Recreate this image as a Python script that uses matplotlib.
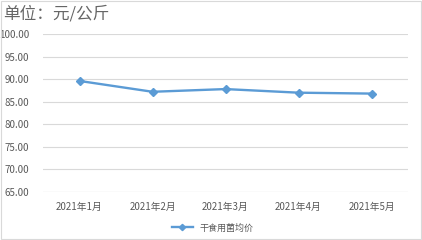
import matplotlib.pyplot as plt
from matplotlib.patches import Rectangle

plt.rcParams['font.family'] = ['Noto Sans CJK SC', 'DejaVu Sans']

months = ["2021年1月", "2021年2月", "2021年3月", "2021年4月", "2021年5月"]
prices = [89.6, 87.2, 87.8, 87.0, 86.8]
yticks = [65, 70, 75, 80, 85, 90, 95, 100]
series_name = "干食用菌均价"

fig = plt.figure(figsize=(4.22, 2.40), dpi=100)
ax = fig.add_axes([43 / 422, 1 - 192 / 240, 365 / 422, 158 / 240])

x = list(range(len(months)))
ax.plot(x, prices, color="#5b9bd5", linewidth=1.7, marker="D", markersize=4,
        label=series_name)

ax.set_xlim(-0.5, len(months) - 0.5)
ax.set_ylim(65, 100)
ax.set_yticks(yticks)
ax.set_yticklabels([f"{v:.2f}" for v in yticks], fontsize=7, color="#595959")
ax.set_xticks(x)
ax.set_xticklabels(months, fontsize=7, color="#595959")
ax.tick_params(axis="y", length=0, pad=10)
ax.tick_params(axis="x", length=0, pad=7)
ax.grid(axis="y", color="#d9d9d9", linewidth=0.8)
ax.set_axisbelow(True)
for s in ax.spines.values():
    s.set_visible(False)
ax.axhline(65, color="#d9d9d9", linewidth=0.8)

fig.text(3 / 422, 1 - 14 / 240, "单位：元/公斤", fontsize=12, color="#666666",
         va="center", ha="left")

fig.legend(loc="center", bbox_to_anchor=(213 / 422, 1 - 228 / 240), frameon=False,
           fontsize=6.5, handlelength=2.3, markerscale=0.8, labelcolor="#595959")

fig.patches.append(Rectangle((0.002, 0.004), 0.995, 0.99, transform=fig.transFigure,
                             fill=False, edgecolor="#d9d9d9", linewidth=0.8))

fig.savefig("out.png", dpi=100)
